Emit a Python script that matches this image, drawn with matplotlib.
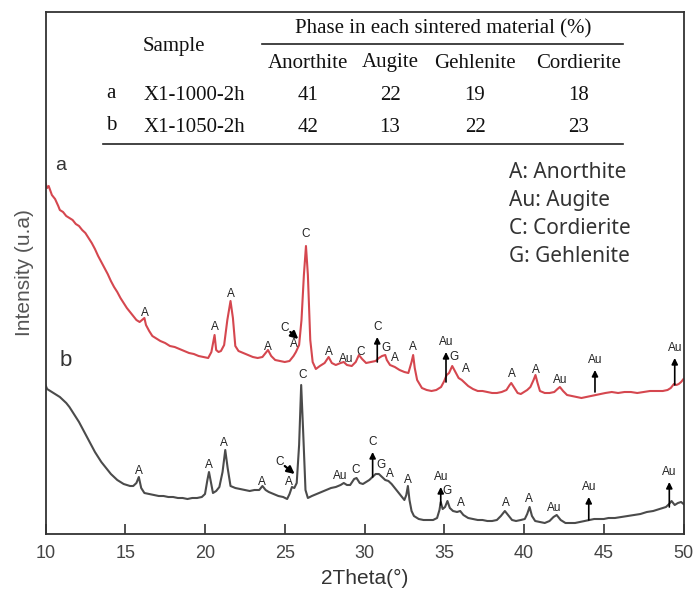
import numpy as np
import matplotlib.pyplot as plt

# XRD patterns: 2theta (deg) and relative intensity (arb.)
a_theta = [10.0, 10.1, 10.2, 10.4, 10.6, 10.8, 10.9, 11.1, 11.3, 11.5, 11.7, 11.9, 12.1, 12.3, 12.5,
           12.7, 12.9, 13.1, 13.3, 13.5, 13.7, 13.9, 14.1, 14.3, 14.5, 14.7, 14.9, 15.1, 15.3, 15.5,
           15.7, 15.9, 16.2, 16.3, 16.5, 16.7, 16.9, 17.2, 17.5, 17.8, 18.1, 18.4, 18.7, 19.0, 19.3,
           19.6, 19.9, 20.2, 20.4, 20.6, 20.7, 20.85, 21.0, 21.2, 21.4, 21.6, 21.75, 21.9, 22.1, 22.4,
           22.7, 23.0, 23.3, 23.6, 23.85, 23.95, 24.15, 24.4, 24.7, 25.0, 25.3, 25.55, 25.7, 25.9, 26.05,
           26.2, 26.33, 26.45, 26.6, 26.75, 26.95, 27.2, 27.5, 27.75, 27.95, 28.2, 28.5, 28.7, 28.9, 29.2,
           29.45, 29.65, 29.85, 30.1, 30.4, 30.7, 30.9, 31.1, 31.3, 31.4, 31.6, 31.9, 32.2, 32.5, 32.75,
           32.95, 33.05, 33.15, 33.3, 33.6, 33.9, 34.2, 34.5, 34.8, 35.0, 35.15, 35.3, 35.5, 35.7, 35.9,
           36.1, 36.3, 36.5, 36.8, 37.1, 37.4, 37.7, 38.0, 38.3, 38.6, 38.9, 39.1, 39.2, 39.4, 39.6,
           39.8, 40.0, 40.2, 40.4, 40.6, 40.72, 40.85, 41.0, 41.3, 41.6, 41.9, 42.1, 42.25, 42.45, 42.7,
           43.0, 43.3, 43.6, 43.9, 44.2, 44.5, 44.8, 45.1, 45.5, 45.9, 46.3, 46.7, 47.1, 47.5, 47.9,
           48.3, 48.7, 49.0, 49.2, 49.4, 49.55, 49.7, 49.85, 50.0]
a_int = [351, 346, 348, 339, 335, 328, 324, 322, 318, 316, 314, 310, 308, 304, 301,
         296, 291, 285, 278, 272, 266, 260, 253, 247, 242, 236, 231, 226, 222, 218,
         214, 212, 216, 209, 203, 198, 196, 193, 191, 188, 187, 185, 183, 181, 180,
         178, 177, 176, 182, 199, 184, 182, 183, 189, 214, 233, 216, 188, 183, 181,
         179, 177, 176, 177, 182, 184, 178, 174, 173, 172, 173, 178, 182, 189, 214,
         259, 288, 259, 194, 172, 165, 168, 171, 177, 171, 169, 171, 172, 169, 168,
         172, 179, 175, 171, 172, 173, 176, 178, 179, 174, 169, 167, 164, 162, 161,
         172, 179, 166, 154, 146, 144, 143, 144, 147, 153, 159, 161, 168, 162, 156,
         154, 151, 148, 145, 143, 143, 142, 141, 141, 142, 144, 149, 151, 146, 141,
         140, 142, 144, 147, 154, 159, 151, 143, 141, 141, 142, 145, 147, 143, 139,
         138, 137, 136, 137, 138, 139, 140, 141, 142, 141, 142, 142, 141, 142, 143,
         143, 143, 144, 146, 150, 149, 150, 152, 155]

b_theta = [10.0, 10.1, 10.3, 10.5, 10.7, 10.9, 11.1, 11.3, 11.5, 11.7, 11.9, 12.1, 12.3, 12.5, 12.7,
           12.9, 13.1, 13.3, 13.5, 13.7, 13.9, 14.1, 14.3, 14.5, 14.7, 14.9, 15.1, 15.3, 15.5, 15.7,
           15.85, 16.0, 16.2, 16.5, 16.8, 17.1, 17.4, 17.7, 18.0, 18.3, 18.6, 18.9, 19.2, 19.5, 19.8,
           20.0, 20.15, 20.25, 20.38, 20.5, 20.7, 20.9, 21.1, 21.27, 21.42, 21.6, 21.9, 22.2, 22.5, 22.8,
           23.1, 23.4, 23.6, 23.8, 24.0, 24.3, 24.6, 24.9, 25.15, 25.3, 25.45, 25.6, 25.75, 25.9, 26.03,
           26.15, 26.3, 26.45, 26.7, 27.0, 27.3, 27.6, 27.9, 28.2, 28.5, 28.7, 28.9, 29.1, 29.35, 29.5,
           29.7, 29.9, 30.1, 30.3, 30.5, 30.7, 30.9, 31.1, 31.3, 31.5, 31.7, 31.9, 32.1, 32.3, 32.5,
           32.62, 32.72, 32.82, 32.95, 33.1, 33.4, 33.7, 34.0, 34.3, 34.55, 34.7, 34.78, 34.9, 35.05, 35.2,
           35.35, 35.55, 35.8, 36.0, 36.2, 36.5, 36.8, 37.1, 37.4, 37.7, 38.0, 38.3, 38.55, 38.8, 39.0,
           39.25, 39.5, 39.8, 40.05, 40.2, 40.35, 40.5, 40.7, 41.0, 41.3, 41.6, 41.85, 42.05, 42.3, 42.6,
           42.9, 43.2, 43.5, 43.8, 44.1, 44.4, 44.7, 45.0, 45.3, 45.7, 46.1, 46.5, 46.9, 47.3, 47.7,
           48.1, 48.5, 48.9, 49.1, 49.25, 49.45, 49.65, 49.85, 50.0]
b_int = [149, 145, 143, 141, 139, 137, 134, 131, 127, 122, 117, 112, 106, 100, 94,
         88, 82, 77, 72, 68, 64, 60, 57, 54, 52, 50, 49, 48, 48, 51,
         57, 46, 41, 40, 39, 38, 38, 37, 37, 36, 36, 35, 36, 36, 37,
         40, 54, 62, 51, 41, 43, 47, 62, 84, 66, 48, 46, 45, 44, 43,
         44, 44, 48, 44, 42, 40, 38, 37, 35, 40, 47, 46, 51, 89, 149,
         104, 44, 36, 38, 40, 42, 44, 46, 47, 49, 51, 49, 49, 55, 56,
         51, 50, 52, 54, 57, 60, 60, 57, 54, 53, 50, 46, 42, 38, 34,
         39, 48, 34, 23, 18, 15, 14, 14, 14, 16, 24, 32, 25, 27, 33,
         26, 23, 22, 23, 19, 16, 15, 14, 14, 13, 13, 14, 18, 23, 19,
         14, 13, 14, 15, 20, 27, 18, 13, 12, 11, 13, 17, 19, 14, 11,
         11, 11, 12, 13, 14, 15, 15, 15, 16, 16, 17, 18, 19, 20, 22,
         23, 25, 27, 30, 33, 29, 31, 32, 30]

# peak labels: (text, 2theta, height)
a_labels = [("A", 16.24, 221), ("A", 20.63, 207), ("A", 21.63, 240), ("A", 23.95, 187),
            ("A", 25.58, 190), ("C", 26.31, 300), ("A", 27.77, 182), ("Au", 28.84, 175),
            ("C", 29.78, 182), ("G", 31.35, 186), ("A", 31.91, 176), ("A", 33.06, 187),
            ("G", 35.61, 177), ("A", 36.36, 165), ("A", 39.25, 160), ("A", 40.75, 164),
            ("Au", 42.26, 154)]
b_labels = [("A", 15.86, 63), ("A", 20.25, 69), ("A", 21.21, 91), ("A", 23.56, 52),
            ("A", 25.29, 52), ("C", 26.1, 159), ("Au", 28.46, 58), ("C", 29.47, 64),
            ("G", 31.02, 69), ("A", 31.6, 60), ("A", 32.71, 54), ("G", 35.19, 43),
            ("A", 36.03, 31), ("A", 38.87, 31), ("A", 40.33, 35), ("Au", 41.88, 26)]
# arrowed labels: (text, 2theta, arrow base, arrow tip)
a_arrows = [("C", 30.80, 172, 197), ("Au", 35.11, 152, 182), ("Au", 44.45, 142, 164), ("Au", 49.45, 149, 176)]
b_arrows = [("C", 30.51, 57, 82), ("Au", 34.78, 29, 47), ("Au", 44.06, 14, 37), ("Au", 49.11, 27, 52)]
# slanted arrows: (label x, label y, tail x, tail y, tip x, tip y)
a_slant = (25.0, 206, 25.35, 202, 25.85, 195)
b_slant = (24.66, 72, 25.0, 68, 25.62, 60)

legend_lines = ["A: Anorthite", "Au: Augite", "C: Cordierite", "G: Gehlenite"]

samples = ["X1-1000-2h", "X1-1050-2h"]
sample_ids = ["a", "b"]
phases = ["Anorthite", "Augite", "Gehlenite", "Cordierite"]
phase_vals = [[41, 22, 19, 18], [42, 13, 22, 23]]

W, H = 694, 589
fig = plt.figure(figsize=(W / 100, H / 100), dpi=100)
L, R, T, B = 45.5, 683.5, 12, 534
ax = fig.add_axes([L / W, 1 - B / H, (R - L) / W, (B - T) / H])

red = "#d5474f"
dark = "#4b4b4b"
ax.plot(a_theta, a_int, color=red, lw=1.5)
ax.plot(b_theta, b_int, color=dark, lw=1.5)
ax.set_xlim(10, 50)
ax.set_ylim(0, B - T)

lab_font = dict(family="Liberation Sans", fontsize=8.5, color="#222", ha="center", va="center")
for t, x, y in a_labels + b_labels:
    ax.text(x, y, t, **lab_font)
arrow_kw = dict(arrowstyle="-|>", color="black", lw=1.2, mutation_scale=9, shrinkA=0, shrinkB=0)
for t, x, y0, y1 in a_arrows + b_arrows:
    ax.annotate("", xy=(x, y1), xytext=(x, y0), arrowprops=arrow_kw)
    ax.text(x, y1 + 10, t, **lab_font)
for lx, ly, sx, sy, hx, hy in [a_slant, b_slant]:
    ax.text(lx, ly, "C", **lab_font)
    ax.annotate("", xy=(hx, hy), xytext=(sx, sy),
                arrowprops=dict(arrowstyle="-|>", color="black", lw=1.6, mutation_scale=11,
                                shrinkA=0, shrinkB=0))

# sample tags
ax.text(10.95, B - 165, "a", family="Liberation Sans", fontsize=14, color="#333", ha="center", va="center")
ax.text(11.3, B - 360, "b", family="Liberation Sans", fontsize=16, color="#333", ha="center", va="center")

# legend text
for i, s in enumerate(legend_lines):
    ax.text((509 - L) / 15.95 + 10, B - (173 + 27.8 * i), s, family="Noto Sans", fontsize=15,
            color="#333", ha="left", va="center")

# table at top (pixel positions converted to data units)
def px(x, y):
    return 10 + (x - L) / 15.95, B - y

tab_font = dict(family="Liberation Serif", fontsize=15, color="#111", va="center")
ax.text(*px(443, 29), "Phase in each sintered material (%)", ha="center", **tab_font)
ax.plot(*zip(px(262, 44), px(623, 44)), color="#222", lw=1.2)
ax.plot(*zip(px(103, 144), px(623, 144)), color="#222", lw=1.2)
ax.text(*px(174, 46), "Sample", ha="center", **tab_font)
col_x = [308, 390, 475, 579]
for cx, p in zip(col_x, phases):
    ax.text(*px(cx, 63), p, ha="center", **tab_font)
for r, (sid, s, vals) in enumerate(zip(sample_ids, samples, phase_vals)):
    ry = 96 + 32 * r
    ax.text(*px(111, ry - 2), sid, ha="center", **tab_font)
    ax.text(*px(194, ry), s, ha="center", **tab_font)
    for cx, v in zip(col_x, vals):
        ax.text(*px(cx, ry), str(v), ha="center", **tab_font)

for sp in ax.spines.values():
    sp.set_color("#333")
    sp.set_linewidth(1.3)
ax.set_xticks([10, 15, 20, 25, 30, 35, 40, 45, 50])
ax.set_yticks([])
ax.tick_params(axis="x", direction="in", length=7, width=1.2, color="#333", labelsize=13,
               labelcolor="#444", pad=8)
for lb in ax.get_xticklabels():
    lb.set_family("Liberation Sans")
ax.set_xlabel("2Theta(°)", family="Liberation Sans", fontsize=15, color="#333", labelpad=5)
ax.set_ylabel("Intensity (u.a)", family="Liberation Sans", fontsize=15, color="#555", labelpad=8)

fig.savefig("out.png", dpi=100)
